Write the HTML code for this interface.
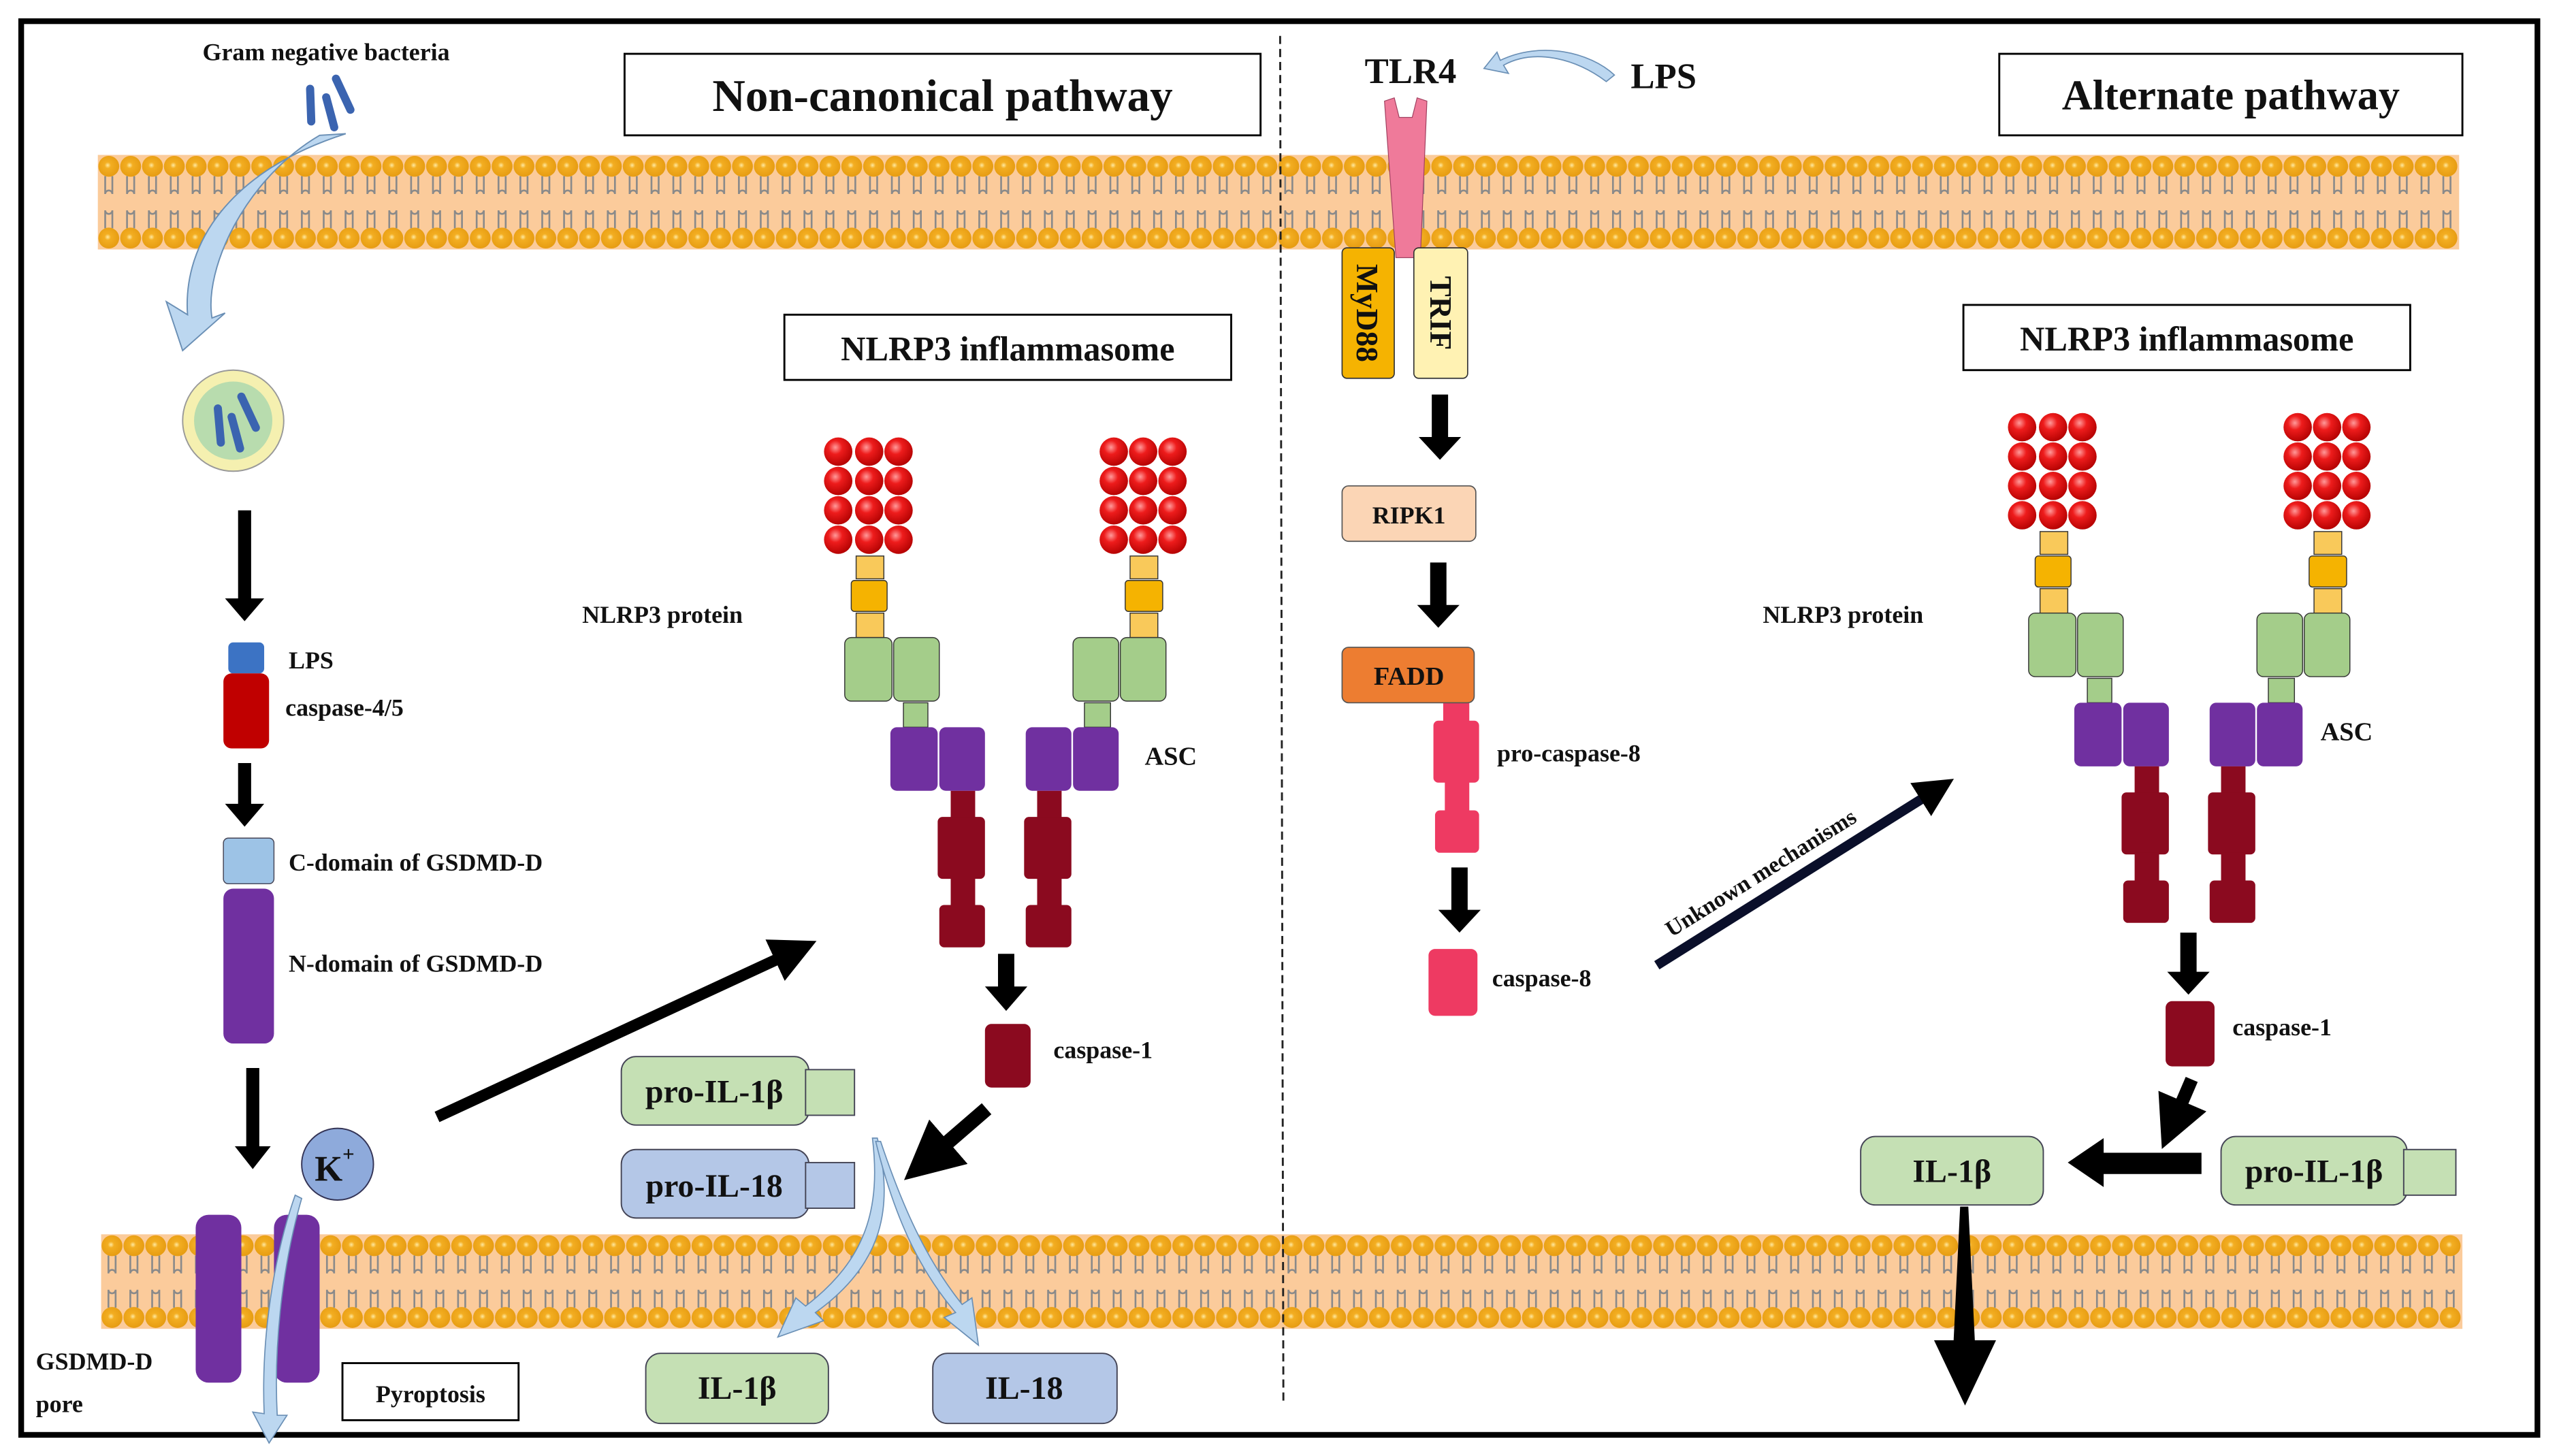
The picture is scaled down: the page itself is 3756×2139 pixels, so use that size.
<!DOCTYPE html>
<html><head><meta charset="utf-8"><style>
html,body{margin:0;padding:0;background:#fff;}
svg{display:block;}
text{font-family:"Liberation Serif",serif;font-weight:bold;fill:#111;}
</style></head><body>
<svg width="3756" height="2139" viewBox="0 0 3756 2139" xmlns="http://www.w3.org/2000/svg">
<defs>
<radialGradient id="hd" cx="0.45" cy="0.45" r="0.6"><stop offset="0" stop-color="#ffe9a0"/><stop offset="0.25" stop-color="#f3ae22"/><stop offset="1" stop-color="#e59a10"/></radialGradient>
<radialGradient id="rb" cx="0.4" cy="0.35" r="0.7"><stop offset="0" stop-color="#ff9a9a"/><stop offset="0.35" stop-color="#ee1c1c"/><stop offset="1" stop-color="#b00000"/></radialGradient>
<g id="col">
<path d="M4.5 13 v11 a2.2 2.2 0 0 1 4.4 0 v-11 M4.5 45 v-11 a2.2 2.2 0 0 0 4.4 0 v11" fill="none" stroke="#8a8a8a" stroke-width="1.1"/>
<circle cx="6.7" cy="7" r="6.4" fill="url(#hd)"/>
<circle cx="6.7" cy="51" r="6.4" fill="url(#hd)"/>
</g>
<g id="c8">
<use href="#col"/><use href="#col" x="13.4"/><use href="#col" x="26.8"/><use href="#col" x="40.2"/>
<use href="#col" x="53.6"/><use href="#col" x="67"/><use href="#col" x="80.4"/><use href="#col" x="93.8"/>
</g>
<g id="memb">
<rect width="1448" height="58" fill="#fbcb9b"/>
<use href="#c8"/><use href="#c8" x="107.2"/><use href="#c8" x="214.4"/><use href="#c8" x="321.6"/>
<use href="#c8" x="428.8"/><use href="#c8" x="536"/><use href="#c8" x="643.2"/><use href="#c8" x="750.4"/>
<use href="#c8" x="857.6"/><use href="#c8" x="964.8"/><use href="#c8" x="1072"/><use href="#c8" x="1179.2"/>
<use href="#c8" x="1286.4"/><use href="#col" x="1393.6"/><use href="#col" x="1407"/><use href="#col" x="1420.4"/><use href="#col" x="1433.8"/>
</g>
<g id="infl">
<g fill="url(#rb)">
<circle cx="514" cy="277" r="8.7"/><circle cx="533" cy="277" r="8.7"/><circle cx="551" cy="277" r="8.7"/>
<circle cx="514" cy="295" r="8.7"/><circle cx="533" cy="295" r="8.7"/><circle cx="551" cy="295" r="8.7"/>
<circle cx="514" cy="313" r="8.7"/><circle cx="533" cy="313" r="8.7"/><circle cx="551" cy="313" r="8.7"/>
<circle cx="514" cy="331" r="8.7"/><circle cx="533" cy="331" r="8.7"/><circle cx="551" cy="331" r="8.7"/>
<circle cx="683" cy="277" r="8.7"/><circle cx="701" cy="277" r="8.7"/><circle cx="719" cy="277" r="8.7"/>
<circle cx="683" cy="295" r="8.7"/><circle cx="701" cy="295" r="8.7"/><circle cx="719" cy="295" r="8.7"/>
<circle cx="683" cy="313" r="8.7"/><circle cx="701" cy="313" r="8.7"/><circle cx="719" cy="313" r="8.7"/>
<circle cx="683" cy="331" r="8.7"/><circle cx="701" cy="331" r="8.7"/><circle cx="719" cy="331" r="8.7"/>
</g>
<g stroke="#333" stroke-width="0.6">
<rect x="525" y="341" width="17" height="14" fill="#f9c95a"/><rect x="522" y="356" width="22" height="19" rx="2" fill="#f5b301"/><rect x="525" y="376" width="17" height="15" fill="#f9c95a"/>
<rect x="693" y="341" width="17" height="14" fill="#f9c95a"/><rect x="690" y="356" width="23" height="19" rx="2" fill="#f5b301"/><rect x="693" y="376" width="17" height="15" fill="#f9c95a"/>
<rect x="518" y="391" width="29" height="39" rx="4" fill="#a4cd8a"/><rect x="548" y="391" width="28" height="39" rx="4" fill="#a4cd8a"/><rect x="554" y="431" width="15" height="15" fill="#a4cd8a"/>
<rect x="658" y="391" width="28" height="39" rx="4" fill="#a4cd8a"/><rect x="687" y="391" width="28" height="39" rx="4" fill="#a4cd8a"/><rect x="665" y="431" width="16" height="15" fill="#a4cd8a"/>
</g>
<g fill="#7030a0">
<rect x="546" y="446" width="29" height="39" rx="4"/><rect x="576" y="446" width="28" height="39" rx="4"/>
<rect x="629" y="446" width="28" height="39" rx="4"/><rect x="658" y="446" width="28" height="39" rx="4"/>
</g>
<g fill="#8b0a1f">
<rect x="583" y="485" width="15" height="17"/><rect x="575" y="501" width="29" height="38" rx="3"/><rect x="583" y="538" width="15" height="18"/><rect x="576" y="555" width="28" height="26" rx="3"/>
<rect x="636" y="485" width="15" height="17"/><rect x="628" y="501" width="29" height="38" rx="3"/><rect x="636" y="538" width="15" height="18"/><rect x="629" y="555" width="28" height="26" rx="3"/>
</g>
</g>
<marker id="ah" markerWidth="4" markerHeight="4" refX="2" refY="2" orient="auto" markerUnits="strokeWidth"><path d="M0,0 L4,2 L0,4 Z" fill="#000"/></marker>
</defs>
<g transform="scale(2.3954)">
<rect x="13" y="13" width="1543" height="867" fill="#fff" stroke="#000" stroke-width="3.5"/>
<use href="#memb" x="60" y="95"/>
<use href="#memb" x="62" y="757"/>
<line x1="785" y1="22" x2="787" y2="860" stroke="#222" stroke-width="1.2" stroke-dasharray="5,3"/>

<text x="200" y="37" font-size="15" text-anchor="middle">Gram  negative bacteria</text>
<g fill="#3b64b0"><rect x="188" y="52" width="5" height="25" rx="2.5" transform="rotate(-2 190 64)"/><rect x="200" y="57" width="5" height="24" rx="2.5" transform="rotate(-15 202 69)"/><rect x="208" y="45" width="5" height="26" rx="2.5" transform="rotate(-25 210 58)"/></g>
<path d="M212 82 L196 83 C150 110 125 165 130 195 L138 192 L112 215 L102 185 L115 193 C112 150 140 105 212 82 Z" fill="#bcd7f0" stroke="#6a8fb5" stroke-width="0.8"/>
<circle cx="143" cy="258" r="31" fill="#f5f0b0" stroke="#999" stroke-width="0.8"/>
<circle cx="143" cy="258" r="24" fill="#b8dcae"/>
<g fill="#3b64b0"><rect x="132" y="248" width="5" height="26" rx="2.5" transform="rotate(-5 134 261)"/><rect x="142" y="253" width="5" height="25" rx="2.5" transform="rotate(-15 144 265)"/><rect x="150" y="240" width="5" height="26" rx="2.5" transform="rotate(-25 152 253)"/></g>

<g fill="#000">
<path d="M146 313 H154 V367 H162 L150 381 L138 367 H146 Z"/>
<path d="M146 468 H154 V493 H162 L150 507 L138 493 H146 Z"/>
<path d="M151 655 H159 V703 H166 L155 717 L144 703 H151 Z"/>
<path d="M878 242 H888 V268 H896 L883 282 L870 268 H878 Z"/>
<path d="M877 345 H887 V371 H895 L882 385 L869 371 H877 Z"/>
<path d="M890 532 H900 V558 H908 L895 572 L882 558 H890 Z"/>
<path d="M612 585 H622 V605 H630 L617 620 L604 605 H612 Z"/>
<path d="M1337 572 H1347 V596 H1355 L1342 610 L1329 596 H1337 Z"/>
</g>
<rect x="140" y="394" width="22" height="19" rx="3" fill="#3c73c4"/>
<rect x="137" y="413" width="28" height="46" rx="5" fill="#c00000"/>
<text x="177" y="410" font-size="15">LPS</text>
<text x="175" y="439" font-size="15">caspase-4/5</text>
<rect x="137" y="514" width="31" height="28" rx="3" fill="#9dc3e6" stroke="#445" stroke-width="0.6"/>
<rect x="137" y="545" width="31" height="95" rx="6" fill="#7030a0"/>
<text x="177" y="534" font-size="15">C-domain  of GSDMD-D</text>
<text x="177" y="596" font-size="15">N-domain  of GSDMD-D</text>

<circle cx="207" cy="714" r="22" fill="#8eaadb" stroke="#335" stroke-width="0.8"/>
<text x="193" y="724" font-size="22">K</text><text x="210" y="712" font-size="13">+</text>

<rect x="120" y="745" width="28" height="103" rx="8" fill="#7030a0"/>
<rect x="168" y="745" width="28" height="103" rx="8" fill="#7030a0"/>
<path d="M185 735 C172 780 168 830 170 868 L176 868 L165 885 L155 866 L162 867 C160 820 168 770 181 733 Z" fill="#bcd7f0" stroke="#6a8fb5" stroke-width="0.7"/>
<text x="22" y="840" font-size="15">GSDMD-D</text>
<text x="22" y="866" font-size="15">pore</text>
<rect x="210" y="836" width="108" height="35" fill="#fff" stroke="#000" stroke-width="1.2"/>
<text x="264" y="860" font-size="15" text-anchor="middle">Pyroptosis</text>

<line x1="268" y1="685" x2="488" y2="583" stroke="#000" stroke-width="7" marker-end="url(#ah)"/>

<rect x="383" y="33" width="390" height="50" fill="#fff" stroke="#000" stroke-width="1.2"/>
<text x="578" y="68" font-size="28" text-anchor="middle">Non-canonical pathway</text>
<rect x="481" y="193" width="274" height="40" fill="#fff" stroke="#000" stroke-width="1.2"/>
<text x="618" y="221" font-size="21" text-anchor="middle">NLRP3 inflammasome</text>
<text x="357" y="382" font-size="15">NLRP3 protein</text>
<use href="#infl"/>
<text x="702" y="469" font-size="16">ASC</text>

<rect x="604" y="628" width="28" height="39" rx="4" fill="#8b0a1f"/>
<text x="646" y="649" font-size="15">caspase-1</text>

<rect x="381" y="648" width="115" height="42" rx="9" fill="#c5e0b4" stroke="#445" stroke-width="0.8"/>
<rect x="494" y="656" width="30" height="28" fill="#c5e0b4" stroke="#445" stroke-width="0.8"/>
<text x="438" y="676" font-size="20" text-anchor="middle">pro-IL-1β</text>
<rect x="381" y="705" width="115" height="42" rx="9" fill="#b4c7e7" stroke="#445" stroke-width="0.8"/>
<rect x="494" y="713" width="30" height="28" fill="#b4c7e7" stroke="#445" stroke-width="0.8"/>
<text x="438" y="734" font-size="20" text-anchor="middle">pro-IL-18</text>
<line x1="605" y1="680" x2="568" y2="712" stroke="#000" stroke-width="9" marker-end="url(#ah)"/>
<path d="M538 698 C548 740 542 775 500 805 L505 810 L477 820 L488 796 L494 801 C532 772 540 740 535 698 Z" fill="#bcd7f0" stroke="#6a8fb5" stroke-width="0.7"/>
<path d="M540 700 C555 745 570 775 590 800 L596 796 L600 825 L579 808 L586 805 C563 778 548 745 537 700 Z" fill="#bcd7f0" stroke="#6a8fb5" stroke-width="0.7"/>
<rect x="396" y="830" width="112" height="43" rx="9" fill="#c5e0b4" stroke="#445" stroke-width="0.8"/>
<text x="452" y="858" font-size="20" text-anchor="middle">IL-1β</text>
<rect x="572" y="830" width="113" height="43" rx="9" fill="#b4c7e7" stroke="#445" stroke-width="0.8"/>
<text x="628" y="858" font-size="20" text-anchor="middle">IL-18</text>

<text x="865" y="51" font-size="22" text-anchor="middle">TLR4</text>
<text x="1000" y="54" font-size="22">LPS</text>
<path d="M985 50 C965 35 940 30 922 40 L925 45 L910 42 L918 32 L920 37 C945 25 975 32 990 46 Z" fill="#bcd7f0" stroke="#6a8fb5" stroke-width="0.7"/>
<path d="M849 62 L855 60 L858 72 L866 72 L869 60 L875 62 L871 158 L856 158 Z" fill="#ef7a9a" stroke="#a04060" stroke-width="0.5"/>
<rect x="823" y="152" width="32" height="80" rx="3" fill="#f5b301" stroke="#333" stroke-width="0.7"/>
<rect x="867" y="152" width="33" height="80" rx="3" fill="#fff2b3" stroke="#333" stroke-width="0.7"/>
<text transform="translate(832 192) rotate(90)" font-size="19" text-anchor="middle">MyD88</text>
<text transform="translate(877 192) rotate(90)" font-size="19" text-anchor="middle">TRIF</text>
<rect x="823" y="298" width="82" height="34" rx="4" fill="#fbd5b5" stroke="#555" stroke-width="0.7"/>
<text x="864" y="321" font-size="15" text-anchor="middle">RIPK1</text>
<rect x="885" y="428" width="16" height="16" fill="#ee3a62"/>
<rect x="823" y="397" width="81" height="34" rx="4" fill="#ed7d31" stroke="#555" stroke-width="0.7"/>
<text x="864" y="420" font-size="16" text-anchor="middle">FADD</text>
<g fill="#ee3a62"><rect x="879" y="442" width="28" height="38" rx="3"/><rect x="886" y="479" width="15" height="19"/><rect x="880" y="497" width="27" height="26" rx="3"/><rect x="876" y="582" width="30" height="41" rx="4"/></g>
<text x="918" y="467" font-size="15">pro-caspase-8</text>
<text x="915" y="605" font-size="15">caspase-8</text>
<line x1="1016" y1="592" x2="1188" y2="484" stroke="#0a0f2a" stroke-width="6" marker-end="url(#ah)"/>
<text transform="translate(1025 575) rotate(-32)" font-size="14">Unknown  mechanisms</text>

<rect x="1226" y="33" width="284" height="50" fill="#fff" stroke="#000" stroke-width="1.2"/>
<text x="1368" y="67" font-size="26" text-anchor="middle">Alternate pathway</text>
<rect x="1204" y="187" width="274" height="40" fill="#fff" stroke="#000" stroke-width="1.2"/>
<text x="1341" y="215" font-size="21" text-anchor="middle">NLRP3 inflammasome</text>
<text x="1081" y="382" font-size="15">NLRP3 protein</text>
<use href="#infl" transform="translate(726 -15)"/>
<text x="1423" y="454" font-size="16">ASC</text>
<rect x="1328" y="614" width="30" height="40" rx="4" fill="#8b0a1f"/>
<text x="1369" y="635" font-size="15">caspase-1</text>
<line x1="1344" y1="662" x2="1332" y2="690" stroke="#000" stroke-width="8" marker-end="url(#ah)"/>
<rect x="1141" y="697" width="112" height="42" rx="9" fill="#c5e0b4" stroke="#445" stroke-width="0.8"/>
<text x="1197" y="725" font-size="20" text-anchor="middle">IL-1β</text>
<path d="M1350 707 H1290 V698 L1268 713 L1290 728 V720 H1350 Z" fill="#000"/>
<rect x="1362" y="697" width="114" height="42" rx="9" fill="#c5e0b4" stroke="#445" stroke-width="0.8"/>
<rect x="1474" y="705" width="32" height="28" fill="#c5e0b4" stroke="#445" stroke-width="0.8"/>
<text x="1419" y="725" font-size="20" text-anchor="middle">pro-IL-1β</text>
<path d="M1202 740 H1207 L1211 822 H1224 L1205 862 L1186 822 H1198 Z" fill="#000"/>
</g>
</svg>
</body></html>
